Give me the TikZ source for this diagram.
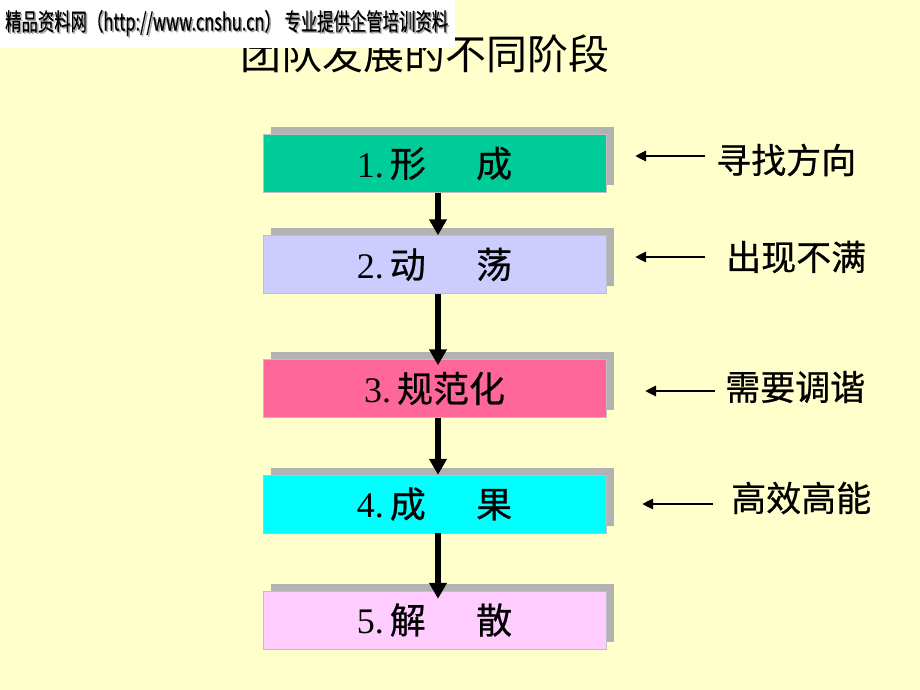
\documentclass[tikz,border=0pt]{standalone}
\usepackage{fontspec}
\setmainfont{Liberation Serif}
\newfontfamily\cjk{Noto Sans CJK SC}
\newfontfamily\cjkb{Noto Sans CJK SC}[FakeBold=0.6]
\usetikzlibrary{arrows.meta,shadows}
\definecolor{bg}{HTML}{FFFFCC}
\definecolor{shadowgray}{HTML}{B2B2B2}
\definecolor{cA}{HTML}{00CC99}
\definecolor{cB}{HTML}{CCCCFF}
\definecolor{cC}{HTML}{FF6699}
\definecolor{cD}{HTML}{00FFFF}
\definecolor{cE}{HTML}{FFCCFF}
\newcommand\zh[1]{{\cjkb #1}}
\tikzset{
  stagebox/.style={minimum width=343pt, minimum height=58pt, inner sep=0pt,
    draw=black!25, line width=0.4pt,
    general shadow={shadow xshift=8pt, shadow yshift=7.5pt, fill=shadowgray, draw=none},
    font=\fontsize{36}{36}\selectfont},
  flowarrow/.style={line width=5.5pt, -{Triangle[length=16pt,width=17pt]}},
  sidearrow/.style={line width=2.8pt, -{Triangle[length=11pt,width=10pt]}},
  sidelabel/.style={anchor=west, inner sep=0pt, font=\fontsize{35}{35}\selectfont\cjkb},
}
\begin{document}
\begin{tikzpicture}[x=1pt,y=-1pt]
\useasboundingbox (0,0) rectangle (920,690);
\fill[bg] (0,0) rectangle (920,690);
% title
\node[inner sep=0pt, font=\fontsize{41}{41}\selectfont\cjk] (title) at (425,54) {团队发展的不同阶段};
% header
\fill[white] (0,0) rectangle (455,48);
\node[inner sep=0pt, anchor=west, text=black!35] (hdrshadow) at (6.5,24.5)
  {\resizebox{443pt}{\height}{\fontsize{24}{24}\cjkb 精品资料网（http://www.cnshu.cn） 专业提供企管培训资料}};
\node[inner sep=0pt, anchor=west] (hdr) at (5,23)
  {\resizebox{443pt}{\height}{\fontsize{24}{24}\cjkb 精品资料网（http://www.cnshu.cn） 专业提供企管培训资料}};
% stages
\node[stagebox, fill=cA] (b1) at (434.5,163.5) {1.\,\zh{形}\hspace{1.4em}\zh{成}};
\node[stagebox, fill=cB] (b2) at (434.5,264.5) {2.\,\zh{动}\hspace{1.4em}\zh{荡}};
\node[stagebox, fill=cC] (b3) at (434.5,388.5) {3.\,\zh{规范化}};
\node[stagebox, fill=cD] (b4) at (434.5,504) {4.\,\zh{成}\hspace{1.4em}\zh{果}};
\node[stagebox, fill=cE] (b5) at (434.5,620) {5.\,\zh{解}\hspace{1.4em}\zh{散}};
% flow arrows
\draw[flowarrow] ([xshift=3.5pt]b1.south) -- ([xshift=3.5pt]b2.north);
\draw[flowarrow] ([xshift=3.5pt]b2.south) -- ([xshift=3.5pt,yshift=-6pt]b3.north);
\draw[flowarrow] ([xshift=3.5pt]b3.south) -- ([xshift=3.5pt]b4.north);
\draw[flowarrow] ([xshift=3.5pt]b4.south) -- ([xshift=3.5pt,yshift=-8pt]b5.north);
% side labels
\node[sidelabel] (l1) at (716,160) {寻找方向};
\node[sidelabel] (l2) at (726,257) {出现不满};
\node[sidelabel] (l3) at (725,387) {需要调谐};
\node[sidelabel] (l4) at (731,498) {高效高能};
\coordinate (t1) at (705,156); \coordinate (h1) at (635,156);
\coordinate (t2) at (705,257); \coordinate (h2) at (635,257);
\coordinate (t3) at (715,391); \coordinate (h3) at (645,391);
\coordinate (t4) at (713,504); \coordinate (h4) at (642,504);
\draw[sidearrow] (t1) -- (h1);
\draw[sidearrow] (t2) -- (h2);
\draw[sidearrow] (t3) -- (h3);
\draw[sidearrow] (t4) -- (h4);
\end{tikzpicture}
\end{document}
